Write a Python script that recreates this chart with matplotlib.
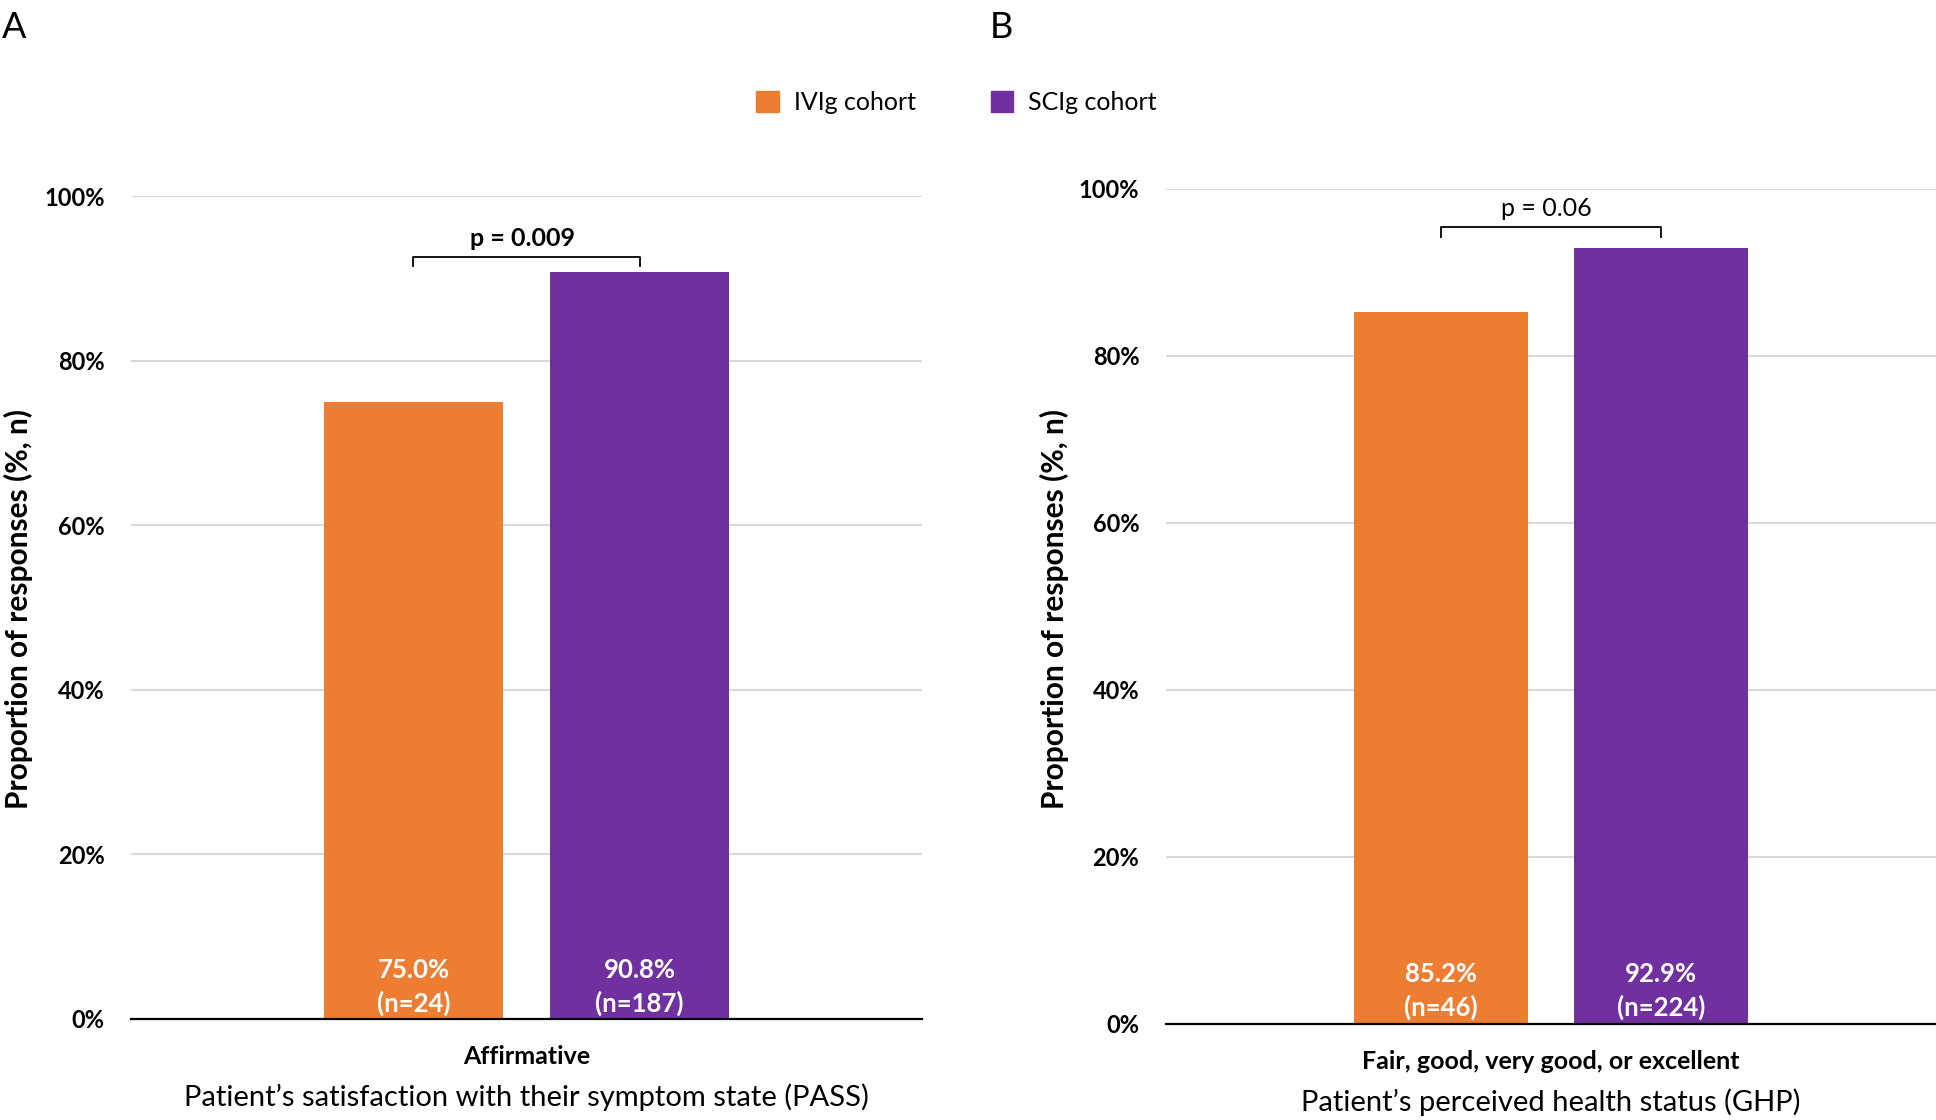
import matplotlib.pyplot as plt
from matplotlib.patches import Patch

plt.rcParams['font.family'] = ['Lato', 'DejaVu Sans']

# data
cohorts = ['IVIg cohort', 'SCIg cohort']
colors = ['#ED7D31', '#7030A0']

pass_values = [0.750, 0.908]
pass_n = [24, 187]
pass_category = 'Affirmative'
pass_title = 'Patient\u2019s satisfaction with their symptom state (PASS)'
pass_p = 'p = 0.009'

ghp_values = [0.852, 0.929]
ghp_n = [46, 224]
ghp_category = 'Fair, good, very good, or excellent'
ghp_title = 'Patient\u2019s perceived health status (GHP)'
ghp_p = 'p = 0.06'

yticks = [0, 0.2, 0.4, 0.6, 0.8, 1.0]


def drawPanel(ax, values, ns, category, title, ptext, pbold, bracketGap):
    offsets = [-0.143, 0.143]
    width = 0.226
    for off, v, n, c in zip(offsets, values, ns, colors):
        ax.bar(off, v, width=width, color=c, zorder=3)
        ax.text(off, 0.039, f'{v*100:.1f}%\n(n={n})', ha='center', va='center',
                color='white', fontsize=18.5, fontweight='bold', linespacing=1.38, zorder=4)

    # significance bracket
    top = max(values) + bracketGap
    ax.plot([offsets[0], offsets[0], offsets[1], offsets[1]],
            [top - 0.011, top, top, top - 0.011], color='black', lw=1.3, zorder=4)
    ax.annotate(ptext, xy=((offsets[0] + offsets[1]) / 2, top), xytext=(-3, 5),
                textcoords='offset points', ha='center', va='bottom', fontsize=18,
                fontweight='bold' if pbold else 'normal')

    ax.set_xlim(-0.5, 0.5)
    ax.set_ylim(0, 1.0)
    ax.set_yticks(yticks)
    ax.set_yticklabels([f'{int(round(t*100))}%' for t in yticks], fontsize=17, fontweight='bold')
    ax.set_xticks([0])
    ax.set_xticklabels([category], fontsize=18, fontweight='bold')
    ax.tick_params(axis='both', length=0)
    ax.tick_params(axis='y', pad=19)
    ax.tick_params(axis='x', pad=19)
    ax.set_xlabel(title, fontsize=21, labelpad=11)
    ax.yaxis.grid(True, color='#D9D9D9', lw=1.5, zorder=0)
    for s in ['top', 'right', 'left']:
        ax.spines[s].set_visible(False)
    ax.spines['bottom'].set_color('black')
    ax.spines['bottom'].set_linewidth(1.6)
    ax.spines['bottom'].set_zorder(5)


fig = plt.figure(figsize=(19.36, 11.2), dpi=100)
axA = fig.add_axes([0.0677, 0.0902, 0.4086, 0.7348])
axB = fig.add_axes([0.6021, 0.0861, 0.3980, 0.7452])

drawPanel(axA, pass_values, pass_n, pass_category, pass_title, pass_p, True, 0.018)
drawPanel(axB, ghp_values, ghp_n, ghp_category, ghp_title, ghp_p, False, 0.025)

fig.text(0.0095, 0.4565, 'Proportion of responses (%, n)', rotation=90, ha='center',
         va='center', fontsize=21.5, fontweight='bold')
fig.text(0.5445, 0.4565, 'Proportion of responses (%, n)', rotation=90, ha='center',
         va='center', fontsize=21.5, fontweight='bold')

fig.text(0.001, 0.99, 'A', ha='left', va='top', fontsize=26)
fig.text(0.511, 0.99, 'B', ha='left', va='top', fontsize=26)

handles = [Patch(color=c, label=l) for c, l in zip(colors, cohorts)]
fig.legend(handles=handles, loc='center', bbox_to_anchor=(0.494, 0.9085), ncol=2,
           frameon=False, fontsize=18, handlelength=0.9, handleheight=0.9,
           handletextpad=0.6, columnspacing=3.0)

fig.savefig('out.png', dpi=100)
